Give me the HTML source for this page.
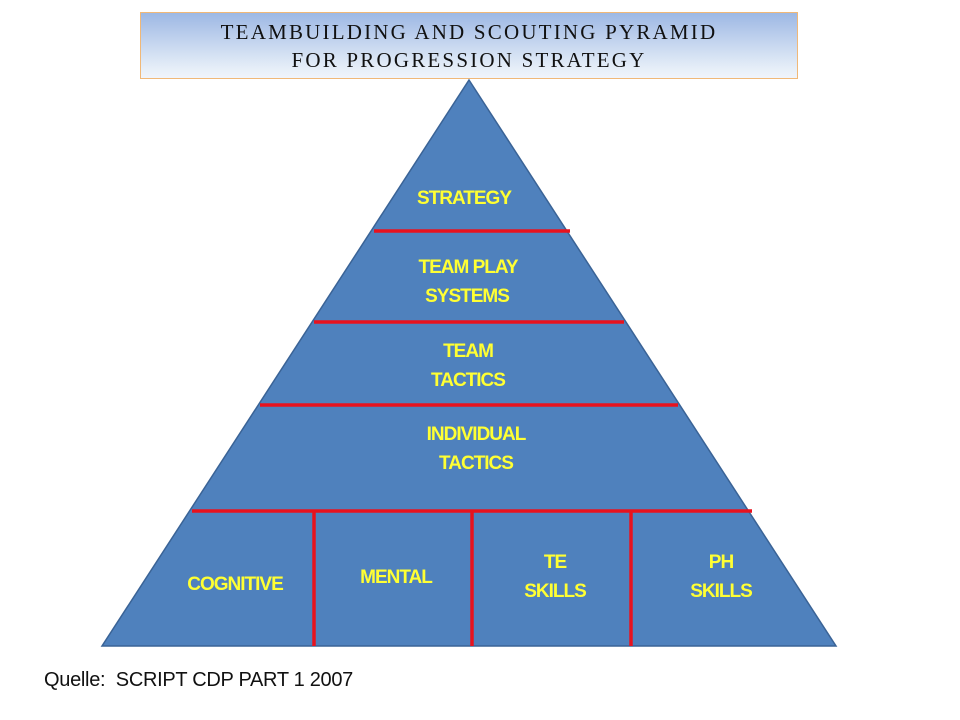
<!DOCTYPE html>
<html><head><meta charset="utf-8"><style>
body{margin:0;width:960px;height:720px;background:#fff;overflow:hidden;position:relative;font-family:"Liberation Sans",sans-serif}
.title{position:absolute;left:140px;top:12px;width:658px;height:67px;background:linear-gradient(#9db8e4,#e6eef8 85%,#f0f4fa);border:1px solid #f0b878;box-sizing:border-box;text-align:center;font-family:"Liberation Serif",serif;font-size:21px;line-height:28px;padding-top:5px;letter-spacing:2.2px;color:#111}
svg{position:absolute;left:0;top:0}
.t{font-family:"Liberation Sans",sans-serif;font-weight:bold;font-size:19px;fill:#ffff33;text-anchor:middle;letter-spacing:-1px}
.q{position:absolute;left:44px;top:669px;font-size:20px;color:#111;font-family:"Liberation Sans",sans-serif;letter-spacing:-0.3px}
</style></head><body>
<div class="title">TEAMBUILDING AND SCOUTING PYRAMID<br>FOR PROGRESSION STRATEGY</div>
<svg width="960" height="720">
<polygon points="469,80 836,646 102,646" fill="#4f81bd" stroke="#3a6396" stroke-width="1.5"/>
<g stroke="#e8121e" stroke-width="3.5">
<line x1="374" y1="231" x2="570" y2="231"/>
<line x1="314" y1="322" x2="624" y2="322"/>
<line x1="260" y1="405" x2="678" y2="405"/>
<line x1="192" y1="511" x2="752" y2="511"/>
<line x1="314" y1="511" x2="314" y2="646"/>
<line x1="472" y1="511" x2="472" y2="646"/>
<line x1="631" y1="511" x2="631" y2="646"/>
</g>
<text class="t" x="464" y="204">STRATEGY</text>
<text class="t" x="468" y="273">TEAM PLAY</text>
<text class="t" x="467" y="302">SYSTEMS</text>
<text class="t" x="468" y="357">TEAM</text>
<text class="t" x="468" y="386">TACTICS</text>
<text class="t" x="476" y="440">INDIVIDUAL</text>
<text class="t" x="476" y="469">TACTICS</text>
<text class="t" x="235" y="590">COGNITIVE</text>
<text class="t" x="396" y="583">MENTAL</text>
<text class="t" x="555" y="568">TE</text>
<text class="t" x="555" y="597">SKILLS</text>
<text class="t" x="721" y="568">PH</text>
<text class="t" x="721" y="597">SKILLS</text>
</svg>
<div class="q">Quelle:&nbsp; SCRIPT CDP PART 1 2007</div>
</body></html>
